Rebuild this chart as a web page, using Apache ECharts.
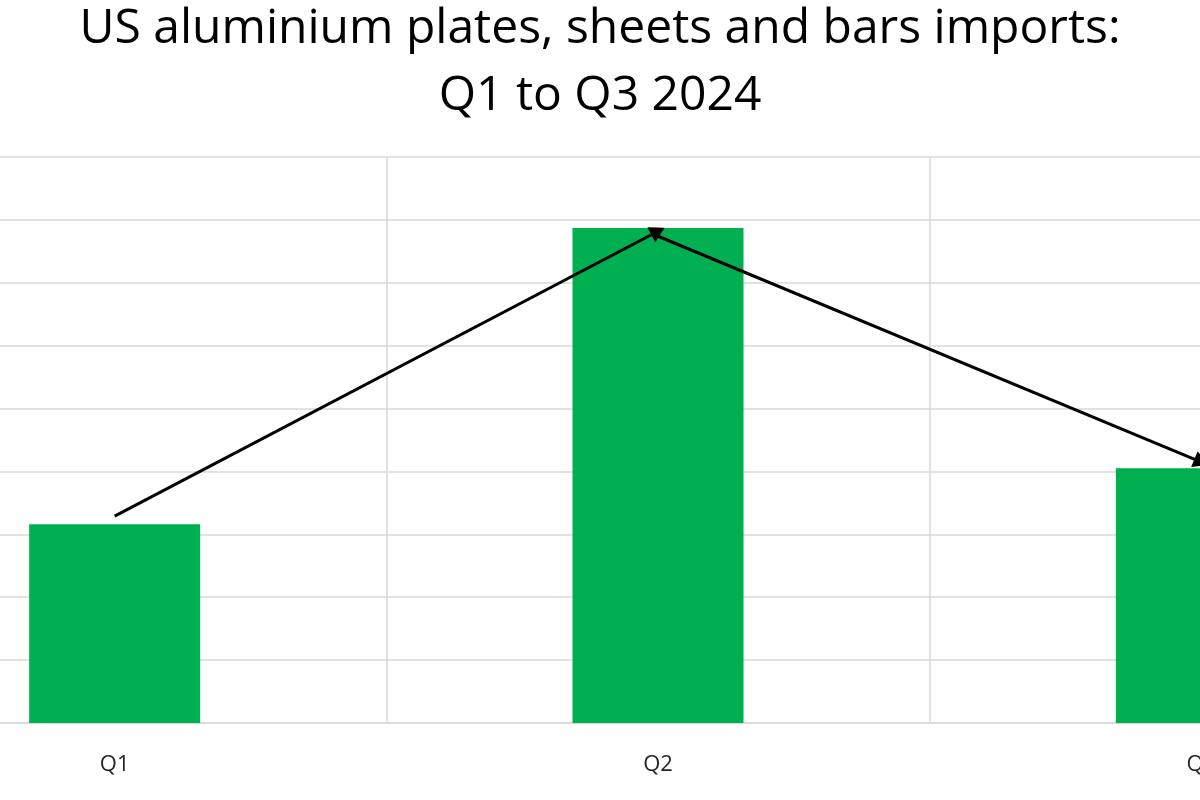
<!DOCTYPE html>
<html>
<head>
<meta charset="utf-8">
<script src="https://cdn.jsdelivr.net/npm/echarts@6/dist/echarts.min.js"></script>
<style>
html,body{margin:0;padding:0;background:#fff;width:1200px;height:800px;overflow:hidden;position:relative;}
#c{position:absolute;left:-273px;top:0;width:1746px;height:800px;}
</style>
</head>
<body>
<div id="c"></div>
<script>
const titleText = 'US aluminium plates, sheets and bars imports:\nQ1 to Q3 2024';
const categories = ['Q1', 'Q2', 'Q3'];
const imports = [3.16, 7.87, 4.05];
const yTicks = [0, 1, 2, 3, 4, 5, 6, 7, 8, 9];
// arrow endpoints (category, value)
const arrowUp = [['Q1', 3.29], ['Q2', 7.82]];
const arrowDown = [['Q2', 7.74], ['Q3', 4.15]];

const chart = echarts.init(document.getElementById('c'), null, {renderer: 'canvas'});
chart.setOption({
  animation: false,
  backgroundColor: '#ffffff',
  title: {
    text: titleText,
    left: 'center',
    top: -9,
    textStyle: {fontFamily: 'Open Sans', fontSize: 48, fontWeight: 'normal', color: '#000', lineHeight: 67}
  },
  grid: {left: 116, right: 0, top: 157, bottom: 77, containLabel: false},
  xAxis: {
    type: 'category',
    data: categories,
    axisLine: {show: true, lineStyle: {color: '#d9d9d9', width: 1.5}},
    axisTick: {show: false},
    splitLine: {show: true, lineStyle: {color: '#d9d9d9', width: 1.5}},
    axisLabel: {color: '#262626', fontSize: 22, fontFamily: 'Open Sans', margin: 31}
  },
  yAxis: {
    type: 'value',
    min: yTicks[0],
    max: yTicks[yTicks.length - 1],
    interval: 1,
    axisLine: {show: false},
    axisTick: {show: false},
    axisLabel: {show: false},
    splitLine: {show: true, lineStyle: {color: '#d9d9d9', width: 1.5}}
  },
  series: [{
    type: 'bar',
    data: imports,
    barWidth: 171,
    itemStyle: {color: '#00b050'},
    markLine: {
      silent: true,
      symbol: ['none', 'triangle'],
      symbolSize: [17, 15],
      label: {show: false},
      lineStyle: {color: '#000', width: 3, type: 'solid'},
      emphasis: {disabled: true},
      data: [
        [{coord: arrowUp[0]}, {coord: arrowUp[1]}],
        [{coord: arrowDown[0]}, {coord: arrowDown[1]}]
      ]
    }
  }]
});
</script>
</body>
</html>
